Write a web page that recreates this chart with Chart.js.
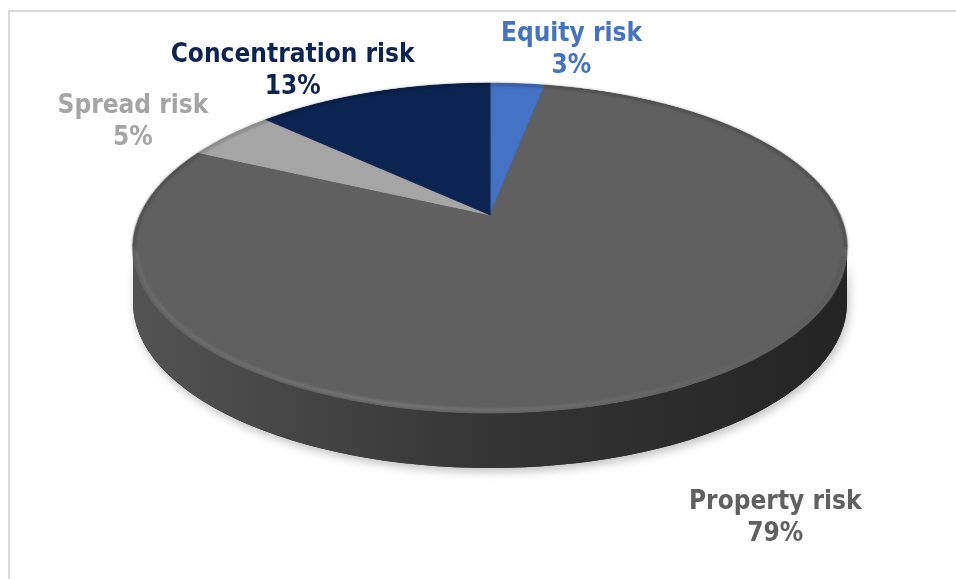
<!DOCTYPE html>
<html>
<head>
<meta charset="utf-8">
<script src="https://cdn.jsdelivr.net/npm/chart.js@4.4.1/dist/chart.umd.min.js"></script>
<style>
html,body{margin:0;padding:0;background:#fff}
canvas{display:block}
</style>
</head>
<body>
<canvas id="riskChart" width="956" height="579"></canvas>
<script>
// risk split, clockwise from 12 o'clock
const categories = ["Equity risk", "Property risk", "Spread risk", "Concentration risk"]
const shares = [3, 79, 5, 13]
const sliceColors = ["#4472C4", "#606060", "#A5A5A5", "#0C2452"]
const labelColors = ["#4472C4", "#606060", "#A5A5A5", "#0C2452"]

// tilted disc: far rim, centre point and near rim rows, widest half-width
const view = {cx: 490, far: 83, apex: 215, near: 413, half: 357, depth: 55}
// label nudge from the rim point at each slice's middle
const labelShift = [[54, -33], [92, 132], [-97, -13], [-80, -21]]

// perspective row mapping y = (p*v + q) / (1 + r*v), v = -1 far .. 1 near
const q = view.apex
const r = (2 * q - view.far - view.near) / (view.near - view.far)
const p = view.near * (1 + r) - q
const s = view.half * Math.sqrt(1 - r * r)
const ell = {cx: view.cx, cy: (view.far + view.near) / 2, rx: view.half, ry: (view.near - view.far) / 2}

function project(theta){
  let u = Math.cos(theta), v = Math.sin(theta)
  return {x: view.cx + s * u / (1 + r * v), y: (p * v + q) / (1 + r * v)}
}
function ellAngle(theta){
  let pt = project(theta)
  return Math.atan2((pt.y - ell.cy) / ell.ry, (pt.x - ell.cx) / ell.rx)
}

function shade(hex, f){
  let n = parseInt(hex.slice(1), 16)
  let rr = Math.round(((n >> 16) & 255) * f)
  let g = Math.round(((n >> 8) & 255) * f)
  let b = Math.round((n & 255) * f)
  return `rgb(${rr},${g},${b})`
}

function sidePath(ctx, a, b){
  ctx.beginPath()
  ctx.ellipse(ell.cx, ell.cy, ell.rx, ell.ry, 0, a, b, false)
  ctx.ellipse(ell.cx, ell.cy + view.depth, ell.rx, ell.ry, 0, b, a, true)
  ctx.closePath()
}

function drawWalls(ctx, arcs){
  arcs.forEach((arc, i) => {
    let t0 = ellAngle(arc.startAngle)
    let span = arc.endAngle - arc.startAngle
    let t1 = ellAngle(arc.endAngle)
    let d = ((t1 - t0) % (2 * Math.PI) + 2 * Math.PI) % (2 * Math.PI)
    if(span >= 2 * Math.PI - 1e-6) d = 2 * Math.PI
    t1 = t0 + d
    ;[0, 2 * Math.PI, -2 * Math.PI].forEach(off => {
      let a = Math.max(t0 + off, 0)
      let b = Math.min(t1 + off, Math.PI)
      if(b <= a) return
      let base = sliceColors[i]
      ctx.save()
      sidePath(ctx, a, b)
      ctx.shadowColor = "rgba(0,0,0,0.25)"
      ctx.shadowBlur = 10
      ctx.shadowOffsetX = 2
      ctx.shadowOffsetY = 4
      ctx.fillStyle = shade(base, 0.5)
      ctx.fill()
      ctx.restore()
      ctx.save()
      let grad = ctx.createLinearGradient(ell.cx - ell.rx, 0, ell.cx + ell.rx, 0)
      grad.addColorStop(0, shade(base, 0.86))
      grad.addColorStop(0.5, shade(base, 0.55))
      grad.addColorStop(1, shade(base, 0.38))
      sidePath(ctx, a, b)
      ctx.fillStyle = grad
      ctx.fill()
      ctx.restore()
    })
  })
}

// draw the library's round pie off screen, then lay it down row by row in perspective
function drawTop(ctx, arcs){
  let a0 = arcs[0]
  let k = 1.5
  let Rk = a0.outerRadius * k
  let size = Math.ceil(2 * Rk + 8)
  let C = size / 2
  let off = document.createElement("canvas")
  off.width = size
  off.height = size
  let oc = off.getContext("2d")
  oc.translate(C, C)
  oc.scale(k, k)
  oc.translate(-a0.x, -a0.y)
  arcs.forEach(arc => arc.draw(oc))

  ctx.save()
  ctx.imageSmoothingEnabled = true
  ctx.imageSmoothingQuality = "high"
  for(let y = Math.floor(view.far) - 1; y <= Math.ceil(view.near) + 1; y++){
    let yc = y + 0.5
    let v = (yc - q) / (p - r * yc)
    if(v < -1.03 || v > 1.03) continue
    let dvdy = (p - r * q) / Math.pow(p - r * yc, 2)
    let sy = C + v * Rk
    let sh = Math.max(dvdy * Rk, 0.5)
    let hs = s / (1 + r * v) / Rk
    ctx.drawImage(off, 0, sy - sh / 2, size, sh, view.cx - C * hs, y, size * hs, 1)
  }
  ctx.restore()

  // soft bevel round the top face
  ctx.save()
  ctx.filter = "blur(1.5px)"
  ctx.strokeStyle = "rgba(0,0,0,0.22)"
  ctx.lineWidth = 3
  ctx.beginPath()
  ctx.ellipse(ell.cx, ell.cy, ell.rx - 1, ell.ry - 1, 0, -Math.PI, 0)
  ctx.stroke()
  let shine = ctx.createLinearGradient(ell.cx - ell.rx, 0, ell.cx + ell.rx, 0)
  shine.addColorStop(0, "rgba(255,255,255,0.12)")
  shine.addColorStop(0.35, "rgba(255,255,255,0.24)")
  shine.addColorStop(0.75, "rgba(255,255,255,0.08)")
  shine.addColorStop(1, "rgba(0,0,0,0.15)")
  ctx.strokeStyle = shine
  ctx.lineWidth = 2
  ctx.beginPath()
  ctx.ellipse(ell.cx, ell.cy, ell.rx - 4, ell.ry - 3, 0, 0.05, Math.PI - 0.02)
  ctx.stroke()
  ctx.restore()
}

const pie3d = {
  id: "pie3d",
  beforeDraw(chart){
    let ctx = chart.ctx
    ctx.save()
    ctx.strokeStyle = "#d9d9d9"
    ctx.lineWidth = 2
    ctx.strokeRect(9, 11, 1000, 1000)
    ctx.restore()
  },
  beforeDatasetsDraw(chart){
    let ctx = chart.ctx
    let arcs = chart.getDatasetMeta(0).data
    drawWalls(ctx, arcs)
    drawTop(ctx, arcs)
    return false
  },
  afterDraw(chart){
    let ctx = chart.ctx
    let arcs = chart.getDatasetMeta(0).data
    let total = shares.reduce((a, b) => a + b, 0)
    ctx.save()
    ctx.font = 'bold 26px "DejaVu Sans Condensed", "DejaVu Sans"'
    ctx.fontStretch = "condensed"
    ctx.textAlign = "center"
    ctx.textBaseline = "middle"
    arcs.forEach((arc, i) => {
      let pt = project((arc.startAngle + arc.endAngle) / 2)
      let x = pt.x + labelShift[i][0]
      let y = pt.y + labelShift[i][1]
      ctx.fillStyle = labelColors[i]
      ctx.fillText(categories[i], x, y - 16)
      ctx.fillText(Math.round(shares[i] / total * 100) + "%", x, y + 16)
    })
    ctx.restore()
  }
}

let chart = new Chart(document.getElementById("riskChart"), {
  type: "pie",
  data: {
    labels: categories,
    datasets: [{
      data: shares,
      backgroundColor: sliceColors,
      borderColor: sliceColors,
      borderWidth: 1
    }]
  },
  options: {
    responsive: false,
    animation: false,
    events: [],
    devicePixelRatio: 1,
    plugins: {
      legend: {display: false},
      tooltip: {enabled: false}
    }
  },
  plugins: [pie3d]
})
</script>
</body>
</html>
